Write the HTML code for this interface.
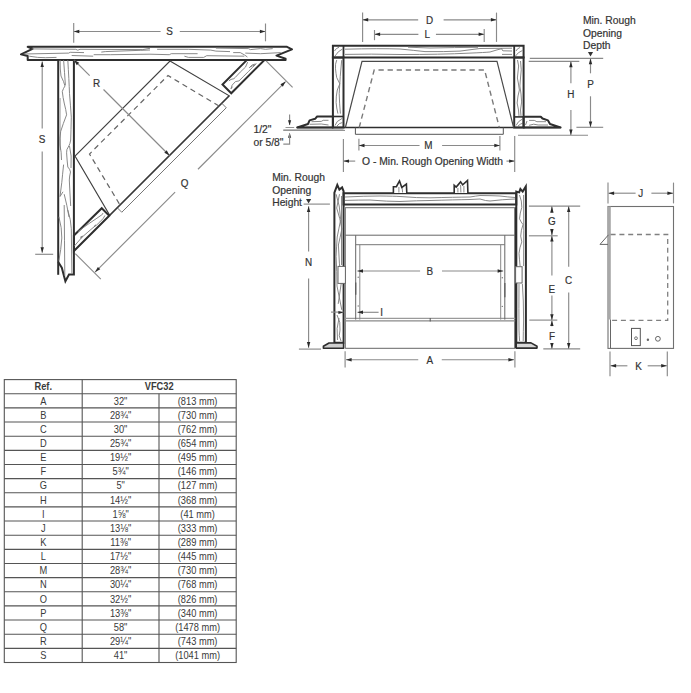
<!DOCTYPE html>
<html><head><meta charset="utf-8"><style>
html,body{margin:0;padding:0;background:#fff;}
svg{display:block;font-family:"Liberation Sans",sans-serif;}
</style></head><body>
<svg width="691" height="693" viewBox="0 0 691 693">
<rect width="691" height="693" fill="#fff"/>
<polygon points="27.7,46.8 287,46.8 292,49.4 276.5,55.6 285.6,58.7 285.6,59.9 27.7,59.9 27.7,56 21,54.3 32.5,48.8" stroke="#2e2e2e" stroke-width="2" fill="none" stroke-linejoin="round"/>
<path d="M31.7,48.9 L75.8,49.3 L77.8,50.2 L80,49.3 L142.8,49.6 L150,48.3" stroke="#7a7a7a" stroke-width="0.9" fill="none"/>
<path d="M23.6,54 L68.7,53.1 L70.2,52.3 L84,52.6" stroke="#7a7a7a" stroke-width="0.9" fill="none"/>
<path d="M29.2,56.2 Q38,57.8 45.4,57.7 L56.5,57.4" stroke="#7a7a7a" stroke-width="0.9" fill="none"/>
<path d="M71.7,55.5 L93.2,56.2" stroke="#7a7a7a" stroke-width="0.9" fill="none"/>
<path d="M101.3,52.1 L105.3,51.6 L140.8,50.3 L150,50" stroke="#7a7a7a" stroke-width="0.9" fill="none"/>
<path d="M93.7,54.7 L110.4,54.7 L150,54.2 L169.3,54.7 L171.3,53.7 L197.6,53.7" stroke="#7a7a7a" stroke-width="0.9" fill="none"/>
<path d="M157.1,49.3 L188.5,49.3 L210.8,50.1 L215.9,51.1 L230,51.6" stroke="#7a7a7a" stroke-width="0.9" fill="none"/>
<path d="M184.4,56.2 L188.5,57.4 L203.7,57.4 L206.7,55.7 L244.3,56.2" stroke="#7a7a7a" stroke-width="0.9" fill="none"/>
<path d="M215.9,48.1 L248.4,48.6 L250.4,49.6 L260.5,48.6 L265.6,49.3 L272.7,48.6" stroke="#7a7a7a" stroke-width="0.9" fill="none"/>
<path d="M233.2,52.6 L240.3,52.6 Q245,55 247.4,57" stroke="#7a7a7a" stroke-width="0.9" fill="none"/>
<path d="M245.3,53.1 L260.5,53.7 L280.8,52.6" stroke="#7a7a7a" stroke-width="0.9" fill="none"/>
<polyline points="58.2,59.9 58.2,274.8" stroke="#2e2e2e" stroke-width="2" fill="none"/>
<polyline points="58.2,262 61.8,267.7 65.4,281.2 69,274.6 73.9,274.6 73.9,59.9" stroke="#2e2e2e" stroke-width="2" fill="none"/>
<path d="M60,98 Q59.8,125 60.2,150" stroke="#b8b8b8" stroke-width="1.6" fill="none"/>
<path d="M60.1,60 Q60,70 61,76 Q64,82 65,86 Q63.5,88 62.3,91.5 Q63,98 64.2,103 Q66,110 66.6,114.8 Q63,124 60.7,131.4 Q59.5,138 60,145 Q61.5,152 61.5,160" stroke="#7a7a7a" stroke-width="0.9" fill="none"/>
<path d="M63.6,60 Q64.5,72 65.4,85.2" stroke="#7a7a7a" stroke-width="0.9" fill="none"/>
<path d="M67.8,60 Q69,80 69.5,93.5 Q70.5,105 71.3,117.2 Q71,130 70.7,140 Q70,144 69,145.6 Q66,150 66.6,152.8 Q67,160 67.8,167 Q70,169 70.5,172 Q69.5,176 69.3,180 Q70,195 70.7,206" stroke="#7a7a7a" stroke-width="0.9" fill="none"/>
<path d="M69.5,146 Q72,155 71,168" stroke="#7a7a7a" stroke-width="0.9" fill="none"/>
<path d="M63.6,164.6 Q62.5,175 61.8,182.3 L60,196.5 L63,191.8 M64.2,194.2 Q67,205 69,217" stroke="#7a7a7a" stroke-width="0.9" fill="none"/>
<path d="M64.2,205 Q64.5,240 64.8,276" stroke="#7a7a7a" stroke-width="0.9" fill="none"/>
<path d="M67.8,210 Q71,220 71.3,228.7 L71.9,273.6" stroke="#7a7a7a" stroke-width="0.9" fill="none"/>
<path d="M58.9,216.8 Q62,228 61.8,238 Q61,250 58.9,260.6" stroke="#7a7a7a" stroke-width="0.9" fill="none"/>
<polygon points="170,61 229.25,95.75 109.75,215.25 75,156" stroke="#404040" stroke-width="1.1" fill="none"/>
<line x1="229.25" y1="95.75" x2="109.75" y2="215.25" stroke="#383838" stroke-width="1.25"/>
<polyline points="221.75,103.25 226.25,107.75 121.75,212.25 117.25,207.75" stroke="#666" stroke-width="0.9" fill="none"/>
<polyline points="219,106 168,75.5 89.5,154 120,205" stroke="#666" stroke-width="1.2" fill="none" stroke-dasharray="5.3 4"/>
<polygon points="247,59.9 264.5,59.9 231.25,93.25 222.5,84.5" stroke="#2e2e2e" stroke-width="2" fill="none"/>
<path d="M247.7,62.1 L245.5,67.1 Q240,72 235.4,77.3 L233.9,78.7 L231,79.4 L228.9,80.9 M256.4,63.5 Q252,68 248.4,71.5 Q244,76 239,80.9 L235.4,81.6 L232.1,85.2 L231,88.8 L232.5,86.7 M249.1,67.9 Q252,64 255.6,63.9 M250,67 Q253,65.5 255,65" stroke="#7a7a7a" stroke-width="0.9" fill="none"/>
<polygon points="73.9,235.5 101.75,208.25 109.25,215.75 73.9,251" stroke="#2e2e2e" stroke-width="2" fill="none"/>
<path d="M74.4,246 L81.9,237.3 Q88,232 93.8,227 L96.2,225.4 Q100,222 103.3,218.3 L104.9,215.5 M77.9,231.7 Q84,227 89.8,223 Q96,219 102.5,214.3 L102.9,213.1 M93.5,227.5 L95.5,225.5 L94,226.6 L96,224.7 M80,237.5 L82.5,236 L81,238.5" stroke="#7a7a7a" stroke-width="0.9" fill="none"/>
<line x1="74" y1="60" x2="89.66" y2="75.66" stroke="#8a8a8a" stroke-width="1.15" fill="none"/>
<line x1="103.51" y1="89.51" x2="169.5" y2="155.5" stroke="#8a8a8a" stroke-width="1.15" fill="none"/>
<polygon points="74,60 79.16,62.76 76.76,65.16" fill="#2a2a2a"/>
<polygon points="169.5,155.5 164.34,152.74 166.74,150.34" fill="#2a2a2a"/>
<text transform="translate(96.6,87.4) scale(0.9,1)" font-size="11" text-anchor="middle" fill="#333" stroke="#333" stroke-width="0.2" font-weight="normal" >R</text>
<line x1="285.6" y1="81.6" x2="197.97" y2="169.23" stroke="#8a8a8a" stroke-width="1.15" fill="none"/>
<line x1="175.11" y1="192.09" x2="95.1" y2="272.1" stroke="#8a8a8a" stroke-width="1.15" fill="none"/>
<polygon points="285.6,81.6 282.84,86.76 280.44,84.36" fill="#2a2a2a"/>
<polygon points="95.1,272.1 97.86,266.94 100.26,269.34" fill="#2a2a2a"/>
<text transform="translate(184.6,186.8) scale(0.9,1)" font-size="11" text-anchor="middle" fill="#333" stroke="#333" stroke-width="0.2" font-weight="normal" >Q</text>
<line x1="266.1" y1="60.9" x2="292.6" y2="87.4" stroke="#8a8a8a" stroke-width="1.15" fill="none"/>
<line x1="75.3" y1="253.7" x2="100.8" y2="279.2" stroke="#8a8a8a" stroke-width="1.15" fill="none"/>
<line x1="42.2" y1="61.5" x2="42.2" y2="128.45" stroke="#8a8a8a" stroke-width="1.15" fill="none"/>
<line x1="42.2" y1="151.41" x2="42.2" y2="252.8" stroke="#8a8a8a" stroke-width="1.15" fill="none"/>
<polygon points="42.2,61.5 43.9,67.1 40.5,67.1" fill="#2a2a2a"/>
<polygon points="42.2,252.8 40.5,247.2 43.9,247.2" fill="#2a2a2a"/>
<line x1="35.2" y1="254.3" x2="53.2" y2="254.3" stroke="#8a8a8a" stroke-width="1.15" fill="none"/>
<text transform="translate(42.1,143.4) scale(0.9,1)" font-size="11" text-anchor="middle" fill="#333" stroke="#333" stroke-width="0.2" font-weight="normal" >S</text>
<line x1="73.7" y1="31.5" x2="160.59" y2="31.5" stroke="#8a8a8a" stroke-width="1.15" fill="none"/>
<line x1="179.77" y1="31.5" x2="265.5" y2="31.5" stroke="#8a8a8a" stroke-width="1.15" fill="none"/>
<polygon points="73.7,31.5 79.3,29.8 79.3,33.2" fill="#2a2a2a"/>
<polygon points="265.5,31.5 259.9,33.2 259.9,29.8" fill="#2a2a2a"/>
<line x1="73.7" y1="23" x2="73.7" y2="42.7" stroke="#8a8a8a" stroke-width="1.15" fill="none"/>
<line x1="265.5" y1="23.5" x2="265.5" y2="41.3" stroke="#8a8a8a" stroke-width="1.15" fill="none"/>
<text transform="translate(169.6,34.5) scale(0.9,1)" font-size="11" text-anchor="middle" fill="#333" stroke="#333" stroke-width="0.2" font-weight="normal" >S</text>
<text transform="translate(253.4,133) scale(1.0,1)" font-size="10.3" text-anchor="start" fill="#333" stroke="#333" stroke-width="0.2" font-weight="normal" >1/2"</text>
<text transform="translate(253.4,145.6) scale(1.0,1)" font-size="10.3" text-anchor="start" fill="#333" stroke="#333" stroke-width="0.2" font-weight="normal" >or 5/8"</text>
<line x1="289.6" y1="114.5" x2="289.6" y2="125" stroke="#8a8a8a" stroke-width="1.15" fill="none"/>
<polygon points="289.6,125.2 288,120.2 291.2,120.2" fill="#2a2a2a"/>
<line x1="285.5" y1="127.5" x2="294.2" y2="127.5" stroke="#888" stroke-width="0.9"/>
<line x1="283.3" y1="130.4" x2="345" y2="130.4" stroke="#777" stroke-width="0.9"/>
<polygon points="289.6,132.8 291.2,137.8 288,137.8" fill="#2a2a2a"/>
<polyline points="289.6,134 289.6,144.1 283.3,144.1" stroke="#8a8a8a" stroke-width="1.15" fill="none"/>
<polygon points="332.9,45.8 523.6,45.8 523.6,57.6 332.9,57.6" stroke="#2e2e2e" stroke-width="2" fill="none"/>
<line x1="343.5" y1="45.8" x2="343.5" y2="57.6" stroke="#2e2e2e" stroke-width="1.8"/>
<line x1="514.2" y1="45.8" x2="514.2" y2="57.6" stroke="#2e2e2e" stroke-width="1.8"/>
<path d="M345,49.2 Q380,48.3 400,49 Q415,50.5 425,51.6 Q445,51.8 460,51.1 Q472,49.5 480,48.5 L512,48.2 M408,47.2 L430,48 Q455,47.5 478,47.3" stroke="#7a7a7a" stroke-width="0.9" fill="none"/>
<path d="M345,54.4 Q370,53.8 400,54.5 Q440,54.6 470,53.1 Q485,52.5 490,52 Q498,49.5 502,48.6 Q501.5,50 503,50.8 L512,51 M502,54.4 L512,54.4" stroke="#7a7a7a" stroke-width="0.9" fill="none"/>
<path d="M334.5,51 Q336,48 339,47.3 M335,56 Q338,51 342.5,49 M516,51 Q517,48.5 520,47.5 M515.5,56 Q518,52 522.5,50.5" stroke="#7a7a7a" stroke-width="0.9" fill="none"/>
<polygon points="332.9,57.6 332.9,127.5 343.5,127.5 343.5,57.6" stroke="#2e2e2e" stroke-width="2" fill="none"/>
<polygon points="514.2,57.6 514.2,127.5 523.6,127.5 523.6,57.6" stroke="#2e2e2e" stroke-width="2" fill="none"/>
<line x1="332.9" y1="116.5" x2="343.5" y2="116.5" stroke="#2e2e2e" stroke-width="1.6"/>
<line x1="514.2" y1="116.9" x2="523.6" y2="116.9" stroke="#2e2e2e" stroke-width="1.6"/>
<path d="M336.7,60.1 Q335,64 335.5,68.8 Q336,74 336.7,77.5 L339.8,83.8 L337.3,90 Q336,96 336.1,102.4 Q336.5,108 337.9,113.6 M341.7,60.1 Q340,76 339.2,93.7 Q339.5,104 340.4,113.6" stroke="#7a7a7a" stroke-width="0.9" fill="none"/>
<path d="M517.5,60 Q519.5,66 518,72 Q516.5,78 518.5,84 Q520.5,90 518,96 Q516,103 518.5,110 L519,116 M520.5,61 Q522,70 520.5,78 Q519,86 521,94 Q522.5,102 520.5,110 L521,116" stroke="#7a7a7a" stroke-width="0.9" fill="none"/>
<path d="M335,125.5 Q336,121 342,118.5 M337,126 Q339,123 342.5,122.5 M516,125.5 Q518,121 522.5,119 M518,126 Q520,124 523,123" stroke="#7a7a7a" stroke-width="0.9" fill="none"/>
<polygon points="332.9,116.5 317.1,116.5 315.1,118.8 309.6,120.4 308,124 297.2,127.5 332.9,127.5" stroke="#2e2e2e" stroke-width="2" fill="none" stroke-linejoin="round"/>
<path d="M311.5,121.7 L321.3,121.4 L323.2,120.3 L328.5,120.3 M309.6,124.3 L321.3,124 L328.5,125" stroke="#7a7a7a" stroke-width="0.9" fill="none"/>
<polygon points="523.6,116.7 540.8,116.7 542.5,118.5 548,120.4 550,124 560.5,127.5 523.6,127.5" stroke="#2e2e2e" stroke-width="2" fill="none" stroke-linejoin="round"/>
<path d="M529.1,120.4 L534.3,120.4 L536.9,121.7 L546,121.7 M529.1,125.3 L533.7,124.2 L538.2,125 L548,125 M525.5,125 L527,121" stroke="#7a7a7a" stroke-width="0.9" fill="none"/>
<line x1="296.8" y1="127.5" x2="561.2" y2="127.5" stroke="#2e2e2e" stroke-width="1.6"/>
<line x1="283.3" y1="129.9" x2="343.5" y2="129.9" stroke="#999" stroke-width="1"/>
<polyline points="345.4,127.5 362,61.3 497,61.3 513.6,127.5" stroke="#4a4a4a" stroke-width="1.2" fill="none"/>
<polyline points="359.2,127.5 374.2,70 484.6,70 499.3,127.5" stroke="#7a7a7a" stroke-width="1.4" fill="none" stroke-dasharray="5.3 3.8"/>
<polyline points="355.4,127.5 355.4,134.3 503.3,134.3 503.3,127.5" stroke="#555" stroke-width="1" fill="none"/>
<line x1="362.6" y1="19.8" x2="418.17" y2="19.8" stroke="#8a8a8a" stroke-width="1.15" fill="none"/>
<line x1="443.61" y1="19.8" x2="496.5" y2="19.8" stroke="#8a8a8a" stroke-width="1.15" fill="none"/>
<polygon points="362.6,19.8 368.2,18.1 368.2,21.5" fill="#2a2a2a"/>
<polygon points="496.5,19.8 490.9,21.5 490.9,18.1" fill="#2a2a2a"/>
<line x1="362.6" y1="12.6" x2="362.6" y2="41.9" stroke="#8a8a8a" stroke-width="1.15" fill="none"/>
<line x1="496.5" y1="12.6" x2="496.5" y2="41.9" stroke="#8a8a8a" stroke-width="1.15" fill="none"/>
<text transform="translate(429.5,23.7) scale(0.9,1)" font-size="11" text-anchor="middle" fill="#333" stroke="#333" stroke-width="0.2" font-weight="normal" >D</text>
<line x1="374.5" y1="34.3" x2="418.38" y2="34.3" stroke="#8a8a8a" stroke-width="1.15" fill="none"/>
<line x1="435.93" y1="34.3" x2="484.2" y2="34.3" stroke="#8a8a8a" stroke-width="1.15" fill="none"/>
<polygon points="374.5,34.3 380.1,32.6 380.1,36" fill="#2a2a2a"/>
<polygon points="484.2,34.3 478.6,36 478.6,32.6" fill="#2a2a2a"/>
<line x1="374.5" y1="30" x2="374.5" y2="40.2" stroke="#8a8a8a" stroke-width="1.15" fill="none"/>
<line x1="484.2" y1="29" x2="484.2" y2="42" stroke="#8a8a8a" stroke-width="1.15" fill="none"/>
<text transform="translate(427.3,38.2) scale(0.9,1)" font-size="11" text-anchor="middle" fill="#333" stroke="#333" stroke-width="0.2" font-weight="normal" >L</text>
<line x1="529.8" y1="58.4" x2="603.2" y2="58.4" stroke="#8a8a8a" stroke-width="1.15" fill="none"/>
<line x1="528.7" y1="61.4" x2="579.3" y2="61.4" stroke="#8a8a8a" stroke-width="1.15" fill="none"/>
<line x1="576.4" y1="127.3" x2="603.2" y2="127.3" stroke="#8a8a8a" stroke-width="1.15" fill="none"/>
<line x1="518" y1="135.2" x2="588" y2="135.2" stroke="#8a8a8a" stroke-width="1.15" fill="none"/>
<line x1="570.9" y1="61.6" x2="570.9" y2="83.25" stroke="#8a8a8a" stroke-width="1.15" fill="none"/>
<line x1="570.9" y1="110.04" x2="570.9" y2="135" stroke="#8a8a8a" stroke-width="1.15" fill="none"/>
<polygon points="570.9,61.6 572.6,67.2 569.2,67.2" fill="#2a2a2a"/>
<polygon points="570.9,135 569.2,129.4 572.6,129.4" fill="#2a2a2a"/>
<text transform="translate(570.9,97.8) scale(0.9,1)" font-size="11" text-anchor="middle" fill="#333" stroke="#333" stroke-width="0.2" font-weight="normal" >H</text>
<line x1="590.5" y1="58.6" x2="590.5" y2="73.33" stroke="#8a8a8a" stroke-width="1.15" fill="none"/>
<line x1="590.5" y1="96.28" x2="590.5" y2="127.1" stroke="#8a8a8a" stroke-width="1.15" fill="none"/>
<polygon points="590.5,58.6 592.2,64.2 588.8,64.2" fill="#2a2a2a"/>
<polygon points="590.5,127.1 588.8,121.5 592.2,121.5" fill="#2a2a2a"/>
<text transform="translate(590.5,88.1) scale(0.9,1)" font-size="11" text-anchor="middle" fill="#333" stroke="#333" stroke-width="0.2" font-weight="normal" >P</text>
<polygon points="587.9,52 593.1,52 590.5,56.4" fill="#333"/>
<text transform="translate(583,24.2) scale(1.0,1)" font-size="10.3" text-anchor="start" fill="#333" stroke="#333" stroke-width="0.2" font-weight="normal" >Min. Rough</text>
<text transform="translate(583,36.5) scale(1.0,1)" font-size="10.3" text-anchor="start" fill="#333" stroke="#333" stroke-width="0.2" font-weight="normal" >Opening</text>
<text transform="translate(583,48.7) scale(1.0,1)" font-size="10.3" text-anchor="start" fill="#333" stroke="#333" stroke-width="0.2" font-weight="normal" >Depth</text>
<line x1="358.9" y1="138.8" x2="358.9" y2="150.4" stroke="#8a8a8a" stroke-width="1.15" fill="none"/>
<line x1="499.9" y1="136" x2="499.9" y2="150.4" stroke="#8a8a8a" stroke-width="1.15" fill="none"/>
<line x1="358.9" y1="145.5" x2="419.53" y2="145.5" stroke="#8a8a8a" stroke-width="1.15" fill="none"/>
<line x1="442.09" y1="145.5" x2="499.9" y2="145.5" stroke="#8a8a8a" stroke-width="1.15" fill="none"/>
<polygon points="358.9,145.5 364.5,143.8 364.5,147.2" fill="#2a2a2a"/>
<polygon points="499.9,145.5 494.3,147.2 494.3,143.8" fill="#2a2a2a"/>
<text transform="translate(428.4,149.4) scale(0.9,1)" font-size="11" text-anchor="middle" fill="#333" stroke="#333" stroke-width="0.2" font-weight="normal" >M</text>
<line x1="343.4" y1="139" x2="343.4" y2="172.1" stroke="#8a8a8a" stroke-width="1.15" fill="none"/>
<line x1="514.7" y1="136" x2="514.7" y2="172.1" stroke="#8a8a8a" stroke-width="1.15" fill="none"/>
<line x1="343.4" y1="161.1" x2="355.22" y2="161.1" stroke="#8a8a8a" stroke-width="1.15" fill="none"/>
<line x1="506.48" y1="161.1" x2="514.7" y2="161.1" stroke="#8a8a8a" stroke-width="1.15" fill="none"/>
<polygon points="343.4,161.1 349,159.4 349,162.8" fill="#2a2a2a"/>
<polygon points="514.7,161.1 509.1,162.8 509.1,159.4" fill="#2a2a2a"/>
<text transform="translate(432.5,164.8) scale(1.0,1)" font-size="10.3" text-anchor="middle" fill="#333" stroke="#333" stroke-width="0.2" font-weight="normal" >O - Min. Rough Opening Width</text>
<polygon points="343.6,193.2 516.3,193.2 516.3,204.4 343.6,204.4" stroke="#2e2e2e" stroke-width="2" fill="none"/>
<path d="M345,197 Q365,196 380,196 Q395,196.2 400,196.5 Q418,198 430,197.8 Q455,197.2 470,197 Q476,196 480,195.5 Q492,195.6 500,196 Q508,197 515,197.5" stroke="#7a7a7a" stroke-width="0.9" fill="none"/>
<path d="M345,200.4 Q360,200 370,200 Q388,201.5 400,201.5 Q418,200.6 430,200.5 Q455,199.8 470,199.5 L480,199 Q486,201 490,201 Q502,199.5 515,199" stroke="#7a7a7a" stroke-width="0.9" fill="none"/>
<polyline points="393.4,193 393.4,186.7 396.4,186.7 399.5,180.9 401.8,187.4 406.4,184.1 406.8,193" stroke="#2e2e2e" stroke-width="1.6" fill="#fff"/>
<polyline points="454.2,193 454.2,185.3 456.2,187.1 460.6,181.9 462.7,184.9 467.5,180.5 467.9,193" stroke="#2e2e2e" stroke-width="1.6" fill="#fff"/>
<path d="M398.9,192.5 L398.9,187 M402.6,192.5 L402.2,188 M457.9,192.5 L457.9,188 M460.9,192.5 L460.6,185 M463.9,192.5 L463.9,186" stroke="#7a7a7a" stroke-width="0.9" fill="none"/>
<polygon points="334.4,342.7 334.4,192.6 337.3,184.8 339.4,189.6 342.1,187.4 343.6,191.3 343.6,342.7" stroke="#2e2e2e" stroke-width="2" fill="none"/>
<polygon points="516.3,342.7 516.3,191.6 519.2,192.4 520.4,189 522.7,191.6 525.8,186.4 525.9,192 525.9,342.7" stroke="#2e2e2e" stroke-width="2" fill="none"/>
<path d="M336.1,194.2 Q340,205 340.7,219.6 Q339,228 337.2,237 Q336.5,247 336.1,256.6 Q337,272 337,286 L341.8,309.9 M339.5,194.2 L336.7,208 Q340,218 341.9,228.9 Q340,238 338.4,245 Q339,262 341.2,283.6 L338.2,303.9 M341.5,196 L341.5,265 M337,315 Q341,322 340,330 Q338,336 341,341 M339,318 Q336,328 337.5,340" stroke="#7a7a7a" stroke-width="0.9" fill="none"/>
<path d="M519.5,195 Q522,201 521.8,207.3 Q520,213 519.5,218.8 Q521,222 523,224.6 Q521,230 520.7,236.1 L521.8,241.9 Q519.5,248 519,253.4 Q519.5,260 520.1,266 M523.6,195 Q523.9,230 523.6,266 M519,284 Q518.8,310 519,330 Q519.2,336 519.6,341 M522.4,284 Q523.6,300 523.6,320 Q523.3,332 523.2,341" stroke="#7a7a7a" stroke-width="0.9" fill="none"/>
<polygon points="323.4,348.3 323.4,346.3 329,343 343.6,343 343.6,348.3" fill="#d0d0d0" stroke="#2e2e2e" stroke-width="1.6" stroke-linejoin="round"/>
<polygon points="537,348.1 537,346.3 531,342.9 516.2,342.9 516.2,348.1" fill="#d8d8d8" stroke="#2e2e2e" stroke-width="1.6" stroke-linejoin="round"/>
<line x1="345.3" y1="206.9" x2="345.3" y2="348.3" stroke="#888" stroke-width="1.4"/>
<line x1="515.2" y1="206.9" x2="515.2" y2="348.3" stroke="#2e2e2e" stroke-width="1.6"/>
<line x1="345.2" y1="207.6" x2="515.2" y2="207.6" stroke="#888" stroke-width="1.2"/>
<line x1="345.2" y1="235.2" x2="515.2" y2="235.2" stroke="#666" stroke-width="1"/>
<line x1="345.2" y1="348.3" x2="515.2" y2="348.3" stroke="#666" stroke-width="1"/>
<line x1="345.2" y1="318.4" x2="515.2" y2="318.4" stroke="#9a9a9a" stroke-width="1.1"/>
<line x1="345.2" y1="320.9" x2="515.2" y2="320.9" stroke="#8a8a8a" stroke-width="1.1"/>
<line x1="430.2" y1="318" x2="430.2" y2="321.5" stroke="#555" stroke-width="1"/>
<line x1="355.7" y1="235.2" x2="355.7" y2="319.6" stroke="#666" stroke-width="1"/>
<line x1="504.8" y1="235.2" x2="504.8" y2="319.6" stroke="#666" stroke-width="1"/>
<line x1="355.7" y1="244.7" x2="504.8" y2="244.7" stroke="#777" stroke-width="1"/>
<line x1="359.8" y1="244.7" x2="359.8" y2="319.6" stroke="#888" stroke-width="1"/>
<line x1="500.7" y1="244.7" x2="500.7" y2="319.6" stroke="#888" stroke-width="1"/>
<circle cx="358.2" cy="277.3" r="0.7" fill="#777"/>
<circle cx="358.2" cy="306" r="0.7" fill="#777"/>
<circle cx="502.3" cy="277.8" r="0.7" fill="#777"/>
<circle cx="502.3" cy="306.4" r="0.7" fill="#777"/>
<line x1="355.8" y1="282.6" x2="355.8" y2="294.7" stroke="#555" stroke-width="1.1"/>
<line x1="504.9" y1="283" x2="504.9" y2="297.3" stroke="#555" stroke-width="1.1"/>
<rect x="338" y="266.4" width="7.4" height="17" fill="#fff" stroke="#666" stroke-width="1"/>
<rect x="515.6" y="266.7" width="6.5" height="16.3" fill="#fff" stroke="#666" stroke-width="1"/>
<line x1="357.4" y1="271" x2="420.09" y2="271" stroke="#8a8a8a" stroke-width="1.15" fill="none"/>
<line x1="441.96" y1="271" x2="503.2" y2="271" stroke="#8a8a8a" stroke-width="1.15" fill="none"/>
<polygon points="357.4,271 363,269.3 363,272.7" fill="#2a2a2a"/>
<polygon points="503.2,271 497.6,272.7 497.6,269.3" fill="#2a2a2a"/>
<text transform="translate(429.8,274.9) scale(0.9,1)" font-size="11" text-anchor="middle" fill="#333" stroke="#333" stroke-width="0.2" font-weight="normal" >B</text>
<line x1="357.6" y1="312.3" x2="378.6" y2="312.3" stroke="#8a8a8a" stroke-width="1.15" fill="none"/>
<polygon points="357.4,312.3 363,310.6 363,314" fill="#2a2a2a"/>
<line x1="331" y1="312.1" x2="343.4" y2="312.1" stroke="#8a8a8a" stroke-width="1.15" fill="none"/>
<polygon points="343.4,312.4 338.4,313.9 338.4,310.9" fill="#2a2a2a"/>
<text transform="translate(381.6,316) scale(0.9,1)" font-size="11" text-anchor="middle" fill="#333" stroke="#333" stroke-width="0.2" font-weight="normal" >I</text>
<line x1="345.1" y1="351.2" x2="345.1" y2="367.5" stroke="#8a8a8a" stroke-width="1.15" fill="none"/>
<line x1="514.9" y1="351.2" x2="514.9" y2="367.5" stroke="#8a8a8a" stroke-width="1.15" fill="none"/>
<line x1="346" y1="359.7" x2="418.24" y2="359.7" stroke="#8a8a8a" stroke-width="1.15" fill="none"/>
<line x1="441.76" y1="359.7" x2="514" y2="359.7" stroke="#8a8a8a" stroke-width="1.15" fill="none"/>
<polygon points="346,359.7 351.6,358 351.6,361.4" fill="#2a2a2a"/>
<polygon points="514,359.7 508.4,361.4 508.4,358" fill="#2a2a2a"/>
<text transform="translate(429.8,363.6) scale(0.9,1)" font-size="11" text-anchor="middle" fill="#333" stroke="#333" stroke-width="0.2" font-weight="normal" >A</text>
<polygon points="306,199 311.2,199 308.6,203.6" fill="#333"/>
<line x1="303.6" y1="204.1" x2="329.9" y2="204.1" stroke="#8a8a8a" stroke-width="1.15" fill="none"/>
<line x1="308.6" y1="206.3" x2="308.6" y2="251.41" stroke="#8a8a8a" stroke-width="1.15" fill="none"/>
<line x1="308.6" y1="278.56" x2="308.6" y2="347.7" stroke="#8a8a8a" stroke-width="1.15" fill="none"/>
<polygon points="308.6,206.3 310.3,211.9 306.9,211.9" fill="#2a2a2a"/>
<polygon points="308.6,347.7 306.9,342.1 310.3,342.1" fill="#2a2a2a"/>
<line x1="298.9" y1="349.1" x2="321" y2="349.1" stroke="#8a8a8a" stroke-width="1.15" fill="none"/>
<text transform="translate(308.7,266.2) scale(0.9,1)" font-size="11" text-anchor="middle" fill="#333" stroke="#333" stroke-width="0.2" font-weight="normal" >N</text>
<text transform="translate(272.2,181.3) scale(1.0,1)" font-size="10.3" text-anchor="start" fill="#333" stroke="#333" stroke-width="0.2" font-weight="normal" >Min. Rough</text>
<text transform="translate(272.2,193.8) scale(1.0,1)" font-size="10.3" text-anchor="start" fill="#333" stroke="#333" stroke-width="0.2" font-weight="normal" >Opening</text>
<text transform="translate(272.2,206.2) scale(1.0,1)" font-size="10.3" text-anchor="start" fill="#333" stroke="#333" stroke-width="0.2" font-weight="normal" >Height</text>
<line x1="528.9" y1="206.1" x2="580.2" y2="206.1" stroke="#8a8a8a" stroke-width="1.15" fill="none"/>
<line x1="528.9" y1="235.8" x2="557.7" y2="235.8" stroke="#8a8a8a" stroke-width="1.15" fill="none"/>
<line x1="529.3" y1="320.1" x2="557.3" y2="320.1" stroke="#8a8a8a" stroke-width="1.15" fill="none"/>
<line x1="543.3" y1="348.9" x2="580.2" y2="348.9" stroke="#8a8a8a" stroke-width="1.15" fill="none"/>
<line x1="551.9" y1="206.3" x2="551.9" y2="212.16" stroke="#8a8a8a" stroke-width="1.15" fill="none"/>
<line x1="551.9" y1="229.74" x2="551.9" y2="235.6" stroke="#8a8a8a" stroke-width="1.15" fill="none"/>
<polygon points="551.9,206.3 553.6,212.8 550.2,212.8" fill="#2a2a2a"/>
<polygon points="551.9,235.6 550.2,229.1 553.6,229.1" fill="#2a2a2a"/>
<text transform="translate(551.9,225.3) scale(0.9,1)" font-size="11" text-anchor="middle" fill="#333" stroke="#333" stroke-width="0.2" font-weight="normal" >G</text>
<line x1="551.9" y1="236" x2="551.9" y2="275.43" stroke="#8a8a8a" stroke-width="1.15" fill="none"/>
<line x1="551.9" y1="295.57" x2="551.9" y2="319.9" stroke="#8a8a8a" stroke-width="1.15" fill="none"/>
<polygon points="551.9,236 553.6,241.6 550.2,241.6" fill="#2a2a2a"/>
<polygon points="551.9,319.9 550.2,314.3 553.6,314.3" fill="#2a2a2a"/>
<text transform="translate(551.9,292.5) scale(0.9,1)" font-size="11" text-anchor="middle" fill="#333" stroke="#333" stroke-width="0.2" font-weight="normal" >E</text>
<line x1="551.9" y1="320.5" x2="551.9" y2="326.14" stroke="#8a8a8a" stroke-width="1.15" fill="none"/>
<line x1="551.9" y1="343.06" x2="551.9" y2="348.7" stroke="#8a8a8a" stroke-width="1.15" fill="none"/>
<polygon points="551.9,320.5 553.6,326.1 550.2,326.1" fill="#2a2a2a"/>
<polygon points="551.9,348.7 550.2,343.1 553.6,343.1" fill="#2a2a2a"/>
<text transform="translate(551.9,340.4) scale(0.9,1)" font-size="11" text-anchor="middle" fill="#333" stroke="#333" stroke-width="0.2" font-weight="normal" >F</text>
<line x1="568.7" y1="206.3" x2="568.7" y2="266.82" stroke="#8a8a8a" stroke-width="1.15" fill="none"/>
<line x1="568.7" y1="292.45" x2="568.7" y2="348.7" stroke="#8a8a8a" stroke-width="1.15" fill="none"/>
<polygon points="568.7,206.3 570.4,211.9 567,211.9" fill="#2a2a2a"/>
<polygon points="568.7,348.7 567,343.1 570.4,343.1" fill="#2a2a2a"/>
<text transform="translate(568.7,284.4) scale(0.9,1)" font-size="11" text-anchor="middle" fill="#333" stroke="#333" stroke-width="0.2" font-weight="normal" >C</text>
<rect x="608" y="206.5" width="65.5" height="141.9" fill="#fff" stroke="#707070" stroke-width="1.1"/>
<rect x="608" y="206.5" width="2.8" height="113" fill="#a8a8a8"/>
<line x1="610.5" y1="319.5" x2="610.5" y2="348.4" stroke="#666" stroke-width="1" fill="none"/>
<polyline points="610.6,234.5 667.7,234.5 667.7,320.4 610.6,320.4" stroke="#808080" stroke-width="1.3" fill="none" stroke-dasharray="5 3.8"/>
<polyline points="608.5,234.8 600,244.4 608,244.4" stroke="#666" stroke-width="1" fill="none"/>
<rect x="631.5" y="328.4" width="8.8" height="17.2" fill="none" stroke="#555" stroke-width="1"/>
<circle cx="636" cy="338.2" r="1.4" fill="none" stroke="#555" stroke-width="0.8"/>
<circle cx="647.9" cy="339.8" r="1.2" fill="#666"/>
<circle cx="657.9" cy="338.8" r="2.4" fill="none" stroke="#555" stroke-width="0.9"/>
<line x1="608" y1="182.6" x2="608" y2="203.4" stroke="#8a8a8a" stroke-width="1.15" fill="none"/>
<line x1="673.5" y1="182.6" x2="673.5" y2="203.4" stroke="#8a8a8a" stroke-width="1.15" fill="none"/>
<line x1="608.5" y1="193.2" x2="635.59" y2="193.2" stroke="#8a8a8a" stroke-width="1.15" fill="none"/>
<line x1="651.39" y1="193.2" x2="673" y2="193.2" stroke="#8a8a8a" stroke-width="1.15" fill="none"/>
<polygon points="608.5,193.2 614.1,191.5 614.1,194.9" fill="#2a2a2a"/>
<polygon points="673,193.2 667.4,194.9 667.4,191.5" fill="#2a2a2a"/>
<text transform="translate(640.8,197.1) scale(0.9,1)" font-size="11" text-anchor="middle" fill="#333" stroke="#333" stroke-width="0.2" font-weight="normal" >J</text>
<line x1="610" y1="351.4" x2="610" y2="376.2" stroke="#8a8a8a" stroke-width="1.15" fill="none"/>
<line x1="667.3" y1="351.4" x2="667.3" y2="376.2" stroke="#8a8a8a" stroke-width="1.15" fill="none"/>
<line x1="610.5" y1="365.8" x2="627.39" y2="365.8" stroke="#8a8a8a" stroke-width="1.15" fill="none"/>
<line x1="647.66" y1="365.8" x2="666.8" y2="365.8" stroke="#8a8a8a" stroke-width="1.15" fill="none"/>
<polygon points="610.5,365.8 616.1,364.1 616.1,367.5" fill="#2a2a2a"/>
<polygon points="666.8,365.8 661.2,367.5 661.2,364.1" fill="#2a2a2a"/>
<text transform="translate(638.6,369.7) scale(0.9,1)" font-size="11" text-anchor="middle" fill="#333" stroke="#333" stroke-width="0.2" font-weight="normal" >K</text>
<rect x="4.3" y="379.6" width="231.89999999999998" height="282.9" fill="none" stroke="#555" stroke-width="1.1"/>
<line x1="4.3" y1="393.75" x2="236.2" y2="393.75" stroke="#555" stroke-width="1.1"/>
<line x1="4.3" y1="407.89" x2="236.2" y2="407.89" stroke="#555" stroke-width="1.1"/>
<line x1="4.3" y1="422.04" x2="236.2" y2="422.04" stroke="#555" stroke-width="1.1"/>
<line x1="4.3" y1="436.18" x2="236.2" y2="436.18" stroke="#555" stroke-width="1.1"/>
<line x1="4.3" y1="450.33" x2="236.2" y2="450.33" stroke="#555" stroke-width="1.1"/>
<line x1="4.3" y1="464.47" x2="236.2" y2="464.47" stroke="#555" stroke-width="1.1"/>
<line x1="4.3" y1="478.62" x2="236.2" y2="478.62" stroke="#555" stroke-width="1.1"/>
<line x1="4.3" y1="492.76" x2="236.2" y2="492.76" stroke="#555" stroke-width="1.1"/>
<line x1="4.3" y1="506.91" x2="236.2" y2="506.91" stroke="#555" stroke-width="1.1"/>
<line x1="4.3" y1="521.05" x2="236.2" y2="521.05" stroke="#555" stroke-width="1.1"/>
<line x1="4.3" y1="535.2" x2="236.2" y2="535.2" stroke="#555" stroke-width="1.1"/>
<line x1="4.3" y1="549.34" x2="236.2" y2="549.34" stroke="#555" stroke-width="1.1"/>
<line x1="4.3" y1="563.49" x2="236.2" y2="563.49" stroke="#555" stroke-width="1.1"/>
<line x1="4.3" y1="577.63" x2="236.2" y2="577.63" stroke="#555" stroke-width="1.1"/>
<line x1="4.3" y1="591.77" x2="236.2" y2="591.77" stroke="#555" stroke-width="1.1"/>
<line x1="4.3" y1="605.92" x2="236.2" y2="605.92" stroke="#555" stroke-width="1.1"/>
<line x1="4.3" y1="620.07" x2="236.2" y2="620.07" stroke="#555" stroke-width="1.1"/>
<line x1="4.3" y1="634.21" x2="236.2" y2="634.21" stroke="#555" stroke-width="1.1"/>
<line x1="4.3" y1="648.36" x2="236.2" y2="648.36" stroke="#555" stroke-width="1.1"/>
<line x1="82.2" y1="379.6" x2="82.2" y2="662.5" stroke="#555" stroke-width="1.1"/>
<line x1="159" y1="393.75" x2="159" y2="662.5" stroke="#555" stroke-width="1.1"/>
<text transform="translate(43.25,390.37) scale(0.92,1)" font-size="10.1" text-anchor="middle" fill="#3a3a3a" stroke="#3a3a3a" stroke-width="0" font-weight="bold" >Ref.</text>
<text transform="translate(159.2,390.37) scale(0.92,1)" font-size="10.1" text-anchor="middle" fill="#3a3a3a" stroke="#3a3a3a" stroke-width="0" font-weight="bold" >VFC32</text>
<text transform="translate(43.25,404.52) scale(0.92,1)" font-size="10.1" text-anchor="middle" fill="#3a3a3a" stroke="#3a3a3a" stroke-width="0" font-weight="normal" >A</text>
<text transform="translate(120.6,404.52) scale(0.92,1)" font-size="10.1" text-anchor="middle" fill="#3a3a3a" stroke="#3a3a3a" stroke-width="0" font-weight="normal" >32"</text>
<text transform="translate(197.6,404.52) scale(0.92,1)" font-size="10.1" text-anchor="middle" fill="#3a3a3a" stroke="#3a3a3a" stroke-width="0" font-weight="normal" >(813 mm)</text>
<text transform="translate(43.25,418.66) scale(0.92,1)" font-size="10.1" text-anchor="middle" fill="#3a3a3a" stroke="#3a3a3a" stroke-width="0" font-weight="normal" >B</text>
<text transform="translate(120.6,418.66) scale(0.92,1)" font-size="10.1" text-anchor="middle" fill="#3a3a3a" stroke="#3a3a3a" stroke-width="0" font-weight="normal" >28&#190;"</text>
<text transform="translate(197.6,418.66) scale(0.92,1)" font-size="10.1" text-anchor="middle" fill="#3a3a3a" stroke="#3a3a3a" stroke-width="0" font-weight="normal" >(730 mm)</text>
<text transform="translate(43.25,432.81) scale(0.92,1)" font-size="10.1" text-anchor="middle" fill="#3a3a3a" stroke="#3a3a3a" stroke-width="0" font-weight="normal" >C</text>
<text transform="translate(120.6,432.81) scale(0.92,1)" font-size="10.1" text-anchor="middle" fill="#3a3a3a" stroke="#3a3a3a" stroke-width="0" font-weight="normal" >30"</text>
<text transform="translate(197.6,432.81) scale(0.92,1)" font-size="10.1" text-anchor="middle" fill="#3a3a3a" stroke="#3a3a3a" stroke-width="0" font-weight="normal" >(762 mm)</text>
<text transform="translate(43.25,446.95) scale(0.92,1)" font-size="10.1" text-anchor="middle" fill="#3a3a3a" stroke="#3a3a3a" stroke-width="0" font-weight="normal" >D</text>
<text transform="translate(120.6,446.95) scale(0.92,1)" font-size="10.1" text-anchor="middle" fill="#3a3a3a" stroke="#3a3a3a" stroke-width="0" font-weight="normal" >25&#190;"</text>
<text transform="translate(197.6,446.95) scale(0.92,1)" font-size="10.1" text-anchor="middle" fill="#3a3a3a" stroke="#3a3a3a" stroke-width="0" font-weight="normal" >(654 mm)</text>
<text transform="translate(43.25,461.1) scale(0.92,1)" font-size="10.1" text-anchor="middle" fill="#3a3a3a" stroke="#3a3a3a" stroke-width="0" font-weight="normal" >E</text>
<text transform="translate(120.6,461.1) scale(0.92,1)" font-size="10.1" text-anchor="middle" fill="#3a3a3a" stroke="#3a3a3a" stroke-width="0" font-weight="normal" >19&#189;"</text>
<text transform="translate(197.6,461.1) scale(0.92,1)" font-size="10.1" text-anchor="middle" fill="#3a3a3a" stroke="#3a3a3a" stroke-width="0" font-weight="normal" >(495 mm)</text>
<text transform="translate(43.25,475.24) scale(0.92,1)" font-size="10.1" text-anchor="middle" fill="#3a3a3a" stroke="#3a3a3a" stroke-width="0" font-weight="normal" >F</text>
<text transform="translate(120.6,475.24) scale(0.92,1)" font-size="10.1" text-anchor="middle" fill="#3a3a3a" stroke="#3a3a3a" stroke-width="0" font-weight="normal" >5&#190;"</text>
<text transform="translate(197.6,475.24) scale(0.92,1)" font-size="10.1" text-anchor="middle" fill="#3a3a3a" stroke="#3a3a3a" stroke-width="0" font-weight="normal" >(146 mm)</text>
<text transform="translate(43.25,489.39) scale(0.92,1)" font-size="10.1" text-anchor="middle" fill="#3a3a3a" stroke="#3a3a3a" stroke-width="0" font-weight="normal" >G</text>
<text transform="translate(120.6,489.39) scale(0.92,1)" font-size="10.1" text-anchor="middle" fill="#3a3a3a" stroke="#3a3a3a" stroke-width="0" font-weight="normal" >5"</text>
<text transform="translate(197.6,489.39) scale(0.92,1)" font-size="10.1" text-anchor="middle" fill="#3a3a3a" stroke="#3a3a3a" stroke-width="0" font-weight="normal" >(127 mm)</text>
<text transform="translate(43.25,503.53) scale(0.92,1)" font-size="10.1" text-anchor="middle" fill="#3a3a3a" stroke="#3a3a3a" stroke-width="0" font-weight="normal" >H</text>
<text transform="translate(120.6,503.53) scale(0.92,1)" font-size="10.1" text-anchor="middle" fill="#3a3a3a" stroke="#3a3a3a" stroke-width="0" font-weight="normal" >14&#189;"</text>
<text transform="translate(197.6,503.53) scale(0.92,1)" font-size="10.1" text-anchor="middle" fill="#3a3a3a" stroke="#3a3a3a" stroke-width="0" font-weight="normal" >(368 mm)</text>
<text transform="translate(43.25,517.68) scale(0.92,1)" font-size="10.1" text-anchor="middle" fill="#3a3a3a" stroke="#3a3a3a" stroke-width="0" font-weight="normal" >I</text>
<text transform="translate(120.6,517.68) scale(0.92,1)" font-size="10.1" text-anchor="middle" fill="#3a3a3a" stroke="#3a3a3a" stroke-width="0" font-weight="normal" >1&#8541;"</text>
<text transform="translate(197.6,517.68) scale(0.92,1)" font-size="10.1" text-anchor="middle" fill="#3a3a3a" stroke="#3a3a3a" stroke-width="0" font-weight="normal" >(41 mm)</text>
<text transform="translate(43.25,531.82) scale(0.92,1)" font-size="10.1" text-anchor="middle" fill="#3a3a3a" stroke="#3a3a3a" stroke-width="0" font-weight="normal" >J</text>
<text transform="translate(120.6,531.82) scale(0.92,1)" font-size="10.1" text-anchor="middle" fill="#3a3a3a" stroke="#3a3a3a" stroke-width="0" font-weight="normal" >13&#8539;"</text>
<text transform="translate(197.6,531.82) scale(0.92,1)" font-size="10.1" text-anchor="middle" fill="#3a3a3a" stroke="#3a3a3a" stroke-width="0" font-weight="normal" >(333 mm)</text>
<text transform="translate(43.25,545.97) scale(0.92,1)" font-size="10.1" text-anchor="middle" fill="#3a3a3a" stroke="#3a3a3a" stroke-width="0" font-weight="normal" >K</text>
<text transform="translate(120.6,545.97) scale(0.92,1)" font-size="10.1" text-anchor="middle" fill="#3a3a3a" stroke="#3a3a3a" stroke-width="0" font-weight="normal" >11&#8540;"</text>
<text transform="translate(197.6,545.97) scale(0.92,1)" font-size="10.1" text-anchor="middle" fill="#3a3a3a" stroke="#3a3a3a" stroke-width="0" font-weight="normal" >(289 mm)</text>
<text transform="translate(43.25,560.11) scale(0.92,1)" font-size="10.1" text-anchor="middle" fill="#3a3a3a" stroke="#3a3a3a" stroke-width="0" font-weight="normal" >L</text>
<text transform="translate(120.6,560.11) scale(0.92,1)" font-size="10.1" text-anchor="middle" fill="#3a3a3a" stroke="#3a3a3a" stroke-width="0" font-weight="normal" >17&#189;"</text>
<text transform="translate(197.6,560.11) scale(0.92,1)" font-size="10.1" text-anchor="middle" fill="#3a3a3a" stroke="#3a3a3a" stroke-width="0" font-weight="normal" >(445 mm)</text>
<text transform="translate(43.25,574.26) scale(0.92,1)" font-size="10.1" text-anchor="middle" fill="#3a3a3a" stroke="#3a3a3a" stroke-width="0" font-weight="normal" >M</text>
<text transform="translate(120.6,574.26) scale(0.92,1)" font-size="10.1" text-anchor="middle" fill="#3a3a3a" stroke="#3a3a3a" stroke-width="0" font-weight="normal" >28&#190;"</text>
<text transform="translate(197.6,574.26) scale(0.92,1)" font-size="10.1" text-anchor="middle" fill="#3a3a3a" stroke="#3a3a3a" stroke-width="0" font-weight="normal" >(730 mm)</text>
<text transform="translate(43.25,588.4) scale(0.92,1)" font-size="10.1" text-anchor="middle" fill="#3a3a3a" stroke="#3a3a3a" stroke-width="0" font-weight="normal" >N</text>
<text transform="translate(120.6,588.4) scale(0.92,1)" font-size="10.1" text-anchor="middle" fill="#3a3a3a" stroke="#3a3a3a" stroke-width="0" font-weight="normal" >30&#188;"</text>
<text transform="translate(197.6,588.4) scale(0.92,1)" font-size="10.1" text-anchor="middle" fill="#3a3a3a" stroke="#3a3a3a" stroke-width="0" font-weight="normal" >(768 mm)</text>
<text transform="translate(43.25,602.55) scale(0.92,1)" font-size="10.1" text-anchor="middle" fill="#3a3a3a" stroke="#3a3a3a" stroke-width="0" font-weight="normal" >O</text>
<text transform="translate(120.6,602.55) scale(0.92,1)" font-size="10.1" text-anchor="middle" fill="#3a3a3a" stroke="#3a3a3a" stroke-width="0" font-weight="normal" >32&#189;"</text>
<text transform="translate(197.6,602.55) scale(0.92,1)" font-size="10.1" text-anchor="middle" fill="#3a3a3a" stroke="#3a3a3a" stroke-width="0" font-weight="normal" >(826 mm)</text>
<text transform="translate(43.25,616.69) scale(0.92,1)" font-size="10.1" text-anchor="middle" fill="#3a3a3a" stroke="#3a3a3a" stroke-width="0" font-weight="normal" >P</text>
<text transform="translate(120.6,616.69) scale(0.92,1)" font-size="10.1" text-anchor="middle" fill="#3a3a3a" stroke="#3a3a3a" stroke-width="0" font-weight="normal" >13&#8540;"</text>
<text transform="translate(197.6,616.69) scale(0.92,1)" font-size="10.1" text-anchor="middle" fill="#3a3a3a" stroke="#3a3a3a" stroke-width="0" font-weight="normal" >(340 mm)</text>
<text transform="translate(43.25,630.84) scale(0.92,1)" font-size="10.1" text-anchor="middle" fill="#3a3a3a" stroke="#3a3a3a" stroke-width="0" font-weight="normal" >Q</text>
<text transform="translate(120.6,630.84) scale(0.92,1)" font-size="10.1" text-anchor="middle" fill="#3a3a3a" stroke="#3a3a3a" stroke-width="0" font-weight="normal" >58"</text>
<text transform="translate(197.6,630.84) scale(0.92,1)" font-size="10.1" text-anchor="middle" fill="#3a3a3a" stroke="#3a3a3a" stroke-width="0" font-weight="normal" >(1478 mm)</text>
<text transform="translate(43.25,644.98) scale(0.92,1)" font-size="10.1" text-anchor="middle" fill="#3a3a3a" stroke="#3a3a3a" stroke-width="0" font-weight="normal" >R</text>
<text transform="translate(120.6,644.98) scale(0.92,1)" font-size="10.1" text-anchor="middle" fill="#3a3a3a" stroke="#3a3a3a" stroke-width="0" font-weight="normal" >29&#188;"</text>
<text transform="translate(197.6,644.98) scale(0.92,1)" font-size="10.1" text-anchor="middle" fill="#3a3a3a" stroke="#3a3a3a" stroke-width="0" font-weight="normal" >(743 mm)</text>
<text transform="translate(43.25,659.13) scale(0.92,1)" font-size="10.1" text-anchor="middle" fill="#3a3a3a" stroke="#3a3a3a" stroke-width="0" font-weight="normal" >S</text>
<text transform="translate(120.6,659.13) scale(0.92,1)" font-size="10.1" text-anchor="middle" fill="#3a3a3a" stroke="#3a3a3a" stroke-width="0" font-weight="normal" >41"</text>
<text transform="translate(197.6,659.13) scale(0.92,1)" font-size="10.1" text-anchor="middle" fill="#3a3a3a" stroke="#3a3a3a" stroke-width="0" font-weight="normal" >(1041 mm)</text>
</svg>
</body></html>
